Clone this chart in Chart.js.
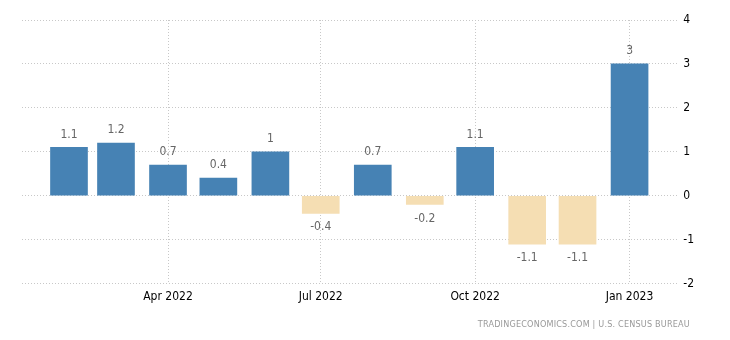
<!DOCTYPE html>
<html>
<head>
<meta charset="utf-8">
<script src="https://cdn.jsdelivr.net/npm/chart.js@4/dist/chart.umd.min.js"></script>
<style>
html,body{margin:0;padding:0;background:#fff;}
#wrap{position:relative;width:730px;height:340px;}
#src{position:absolute;right:40px;top:319px;font:9px "DejaVu Sans Condensed","Liberation Sans Narrow",sans-serif;color:#999;letter-spacing:0.2px;}
</style>
</head>
<body>
<div id="wrap">
<canvas id="c" width="730" height="340"></canvas>
<div id="src">TRADINGECONOMICS.COM | U.S. CENSUS BUREAU</div>
</div>
<script>
const months = ["2022-02","2022-03","2022-04","2022-05","2022-06","2022-07","2022-08","2022-09","2022-10","2022-11","2022-12","2023-01"];
const values = [1.1, 1.2, 0.7, 0.4, 1, -0.4, 0.7, -0.2, 1.1, -1.1, -1.1, 3];
const tickMonths = ["2022-04","2022-07","2022-10","2023-01"];
const tickLabels = ["Apr 2022","Jul 2022","Oct 2022","Jan 2023"];
const yTicks = [-2,-1,0,1,2,3,4];

const base = Date.UTC(2022,0,1);
function dayOf(m){const [y,mo]=m.split("-").map(Number);return (Date.UTC(y,mo-1,1)-base)/86400000;}
const xs = months.map(dayOf);
const tickXs = tickMonths.map(dayOf);
const FONT='"DejaVu Sans Condensed","Liberation Sans Narrow",sans-serif';

const labelPlugin = {
  id:'vlabels',
  afterDatasetsDraw(chart){
    const ctx=chart.ctx, meta=chart.getDatasetMeta(0);
    ctx.save();
    ctx.font='12px '+FONT;
    ctx.fillStyle='#666';
    ctx.textAlign='center';ctx.textBaseline='middle';
    meta.data.forEach((bar,i)=>{
      const v=values[i];
      const y = v>=0 ? bar.y-13 : bar.y+14;
      ctx.fillText(String(v), bar.x, y);
    });
    ctx.restore();
  }
};

new Chart(document.getElementById('c'),{
  type:'bar',
  data:{datasets:[{
    data: xs.map((x,i)=>({x:x,y:values[i]})),
    backgroundColor: values.map(v=>v>=0?'#4682b4':'#f5deb3'),
    barThickness:37,
    borderWidth:0
  }]},
  options:{
    responsive:false,animation:false,
    layout:{padding:{left:22,right:31,top:20,bottom:30}},
    plugins:{legend:{display:false},tooltip:{enabled:false}},
    scales:{
      x:{type:'linear',min:3,max:394,offset:false,
        afterBuildTicks(s){s.ticks=tickXs.map(v=>({value:v}));},
        ticks:{callback:(v)=>{const i=tickXs.indexOf(v);return i>=0?tickLabels[i]:'';},
          color:'#000',font:{size:12,family:FONT},padding:6,maxRotation:0,autoSkip:false},
        grid:{color:'#c8c8c8',offset:false,drawTicks:false,lineWidth:1},
        border:{display:false,dash:[1,2]}
      },
      y:{position:'right',min:-2,max:4,
        afterBuildTicks(s){s.ticks=yTicks.map(v=>({value:v}));},
        ticks:{color:'#000',font:{size:12,family:FONT},padding:5},
        grid:{color:'#c8c8c8',drawTicks:false,lineWidth:1},
        border:{display:false,dash:[1,2]}
      }
    }
  },
  plugins:[labelPlugin]
});
</script>
</body>
</html>
